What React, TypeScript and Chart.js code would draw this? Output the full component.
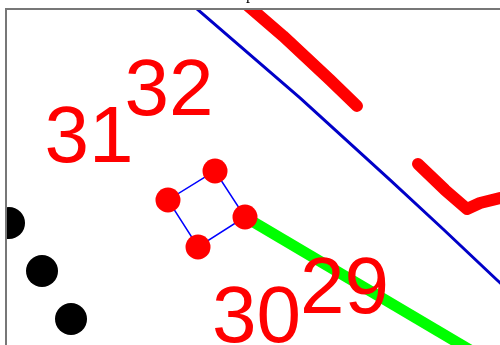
import React, { useEffect, useRef } from "react";
import { Chart, registerables } from "chart.js";

Chart.register(...registerables);

// Data coordinates (x: 0..100, y: 0..68)
const blueLine = [
  { x: 37.25, y: 69.23 },
  { x: 59.51, y: 50.0 },
  { x: 77.73, y: 33.4 },
  { x: 88.46, y: 23.48 },
  { x: 99.39, y: 13.16 },
  { x: 102.02, y: 10.73 },
];
const redLineA = [
  { x: 47.37, y: 70.04 },
  { x: 56.07, y: 62.55 },
  { x: 65.59, y: 53.64 },
  { x: 71.05, y: 48.38 },
];
const redLineB = [
  { x: 83.4, y: 36.64 },
  { x: 88.87, y: 31.38 },
  { x: 93.32, y: 27.53 },
  { x: 95.95, y: 28.74 },
  { x: 100.0, y: 29.76 },
  { x: 104.05, y: 30.16 },
];
const greenLine = [
  { x: 48.38, y: 25.91 },
  { x: 93.93, y: -1.01 },
];
const redDots = [
  { x: 42.31, y: 35.22 },
  { x: 48.38, y: 25.91 },
  { x: 38.87, y: 19.84 },
  { x: 32.79, y: 29.35 },
];
const polygon = [
  { x: 42.31, y: 35.22 },
  { x: 48.38, y: 25.91 },
  { x: 38.87, y: 19.84 },
  { x: 32.79, y: 29.35 },
  { x: 42.31, y: 35.22 },
];
const blackDots = [
  { x: 0.61, y: 24.7 },
  { x: 7.29, y: 14.98 },
  { x: 13.16, y: 5.26 },
];
const labelTexts = ["31", "32", "30", "29"];
const labelX = [7.81, 24.01, 41.7, 59.51];
const labelY = [37.04, 46.56, 0.61, 6.48];
const titleText = "p";

export default function App() {
  const ref = useRef<HTMLCanvasElement | null>(null);

  useEffect(() => {
    if (!ref.current) return;
    const overlay = {
      id: "overlay",
      afterDatasetsDraw(chart: any) {
        const ctx = chart.ctx;
        const xs = chart.scales.x;
        const ys = chart.scales.y;
        ctx.save();
        ctx.fillStyle = "#ff0000";
        ctx.font = '80px "Liberation Sans", Arial, sans-serif';
        ctx.textAlign = "left";
        ctx.textBaseline = "alphabetic";
        labelTexts.forEach((t, i) => {
          ctx.fillText(t, xs.getPixelForValue(labelX[i]), ys.getPixelForValue(labelY[i]));
        });
        ctx.restore();
      },
      afterDraw(chart: any) {
        const ctx = chart.ctx;
        const a = chart.chartArea;
        ctx.save();
        ctx.strokeStyle = "#777777";
        ctx.lineWidth = 2;
        ctx.beginPath();
        ctx.moveTo(a.left, a.bottom + 5);
        ctx.lineTo(a.left, a.top);
        ctx.lineTo(a.right + 5, a.top);
        ctx.stroke();
        ctx.fillStyle = "#000000";
        ctx.font = '16px "Liberation Serif", serif';
        ctx.textAlign = "left";
        ctx.textBaseline = "alphabetic";
        ctx.fillText(titleText, 246, -1);
        ctx.restore();
      },
    };

    const chart = new Chart(ref.current, {
      type: "scatter",
      data: {
        datasets: [
          {
            data: redDots,
            showLine: false,
            pointRadius: 12.5,
            pointBackgroundColor: "#ff0000",
            pointBorderWidth: 0,
            clip: 0,
            order: 0,
          } as any,
          {
            data: polygon,
            showLine: true,
            borderColor: "#0000ff",
            borderWidth: 1.5,
            pointRadius: 0,
            clip: 0,
            order: 1,
          },
          {
            data: greenLine,
            showLine: true,
            borderColor: "#00ff00",
            borderWidth: 11,
            pointRadius: 0,
            clip: 0,
            order: 2,
          },
          {
            data: blackDots,
            showLine: false,
            pointRadius: 16,
            pointBackgroundColor: "#000000",
            pointBorderWidth: 0,
            clip: 0,
            order: 3,
          },
          {
            data: redLineA,
            showLine: true,
            borderColor: "#ff0000",
            borderWidth: 12,
            borderCapStyle: "round",
            borderJoinStyle: "round",
            pointRadius: 0,
            clip: 0,
            order: 4,
          },
          {
            data: redLineB,
            showLine: true,
            borderColor: "#ff0000",
            borderWidth: 12,
            borderCapStyle: "round",
            borderJoinStyle: "round",
            pointRadius: 0,
            clip: 0,
            order: 5,
          },
          {
            data: blueLine,
            showLine: true,
            borderColor: "#0000c8",
            borderWidth: 3,
            pointRadius: 0,
            clip: 0,
            order: 6,
          },
        ],
      },
      options: {
        animation: false,
        responsive: false,
        devicePixelRatio: 1,
        layout: { autoPadding: false, padding: { left: 6, top: 9, right: 0, bottom: 0 } },
        plugins: { legend: { display: false }, tooltip: { enabled: false }, title: { display: false } },
        scales: {
          x: { type: "linear", min: 0, max: 100, display: false },
          y: { type: "linear", min: 0, max: 68, display: false },
        },
      },
      plugins: [overlay],
    });
    return () => chart.destroy();
  }, []);

  return (
    <div style={{ position: "absolute", left: 0, top: 0, width: 500, height: 345, background: "#ffffff" }}>
      <canvas ref={ref} width={500} height={345} style={{ display: "block" }} />
    </div>
  );
}
